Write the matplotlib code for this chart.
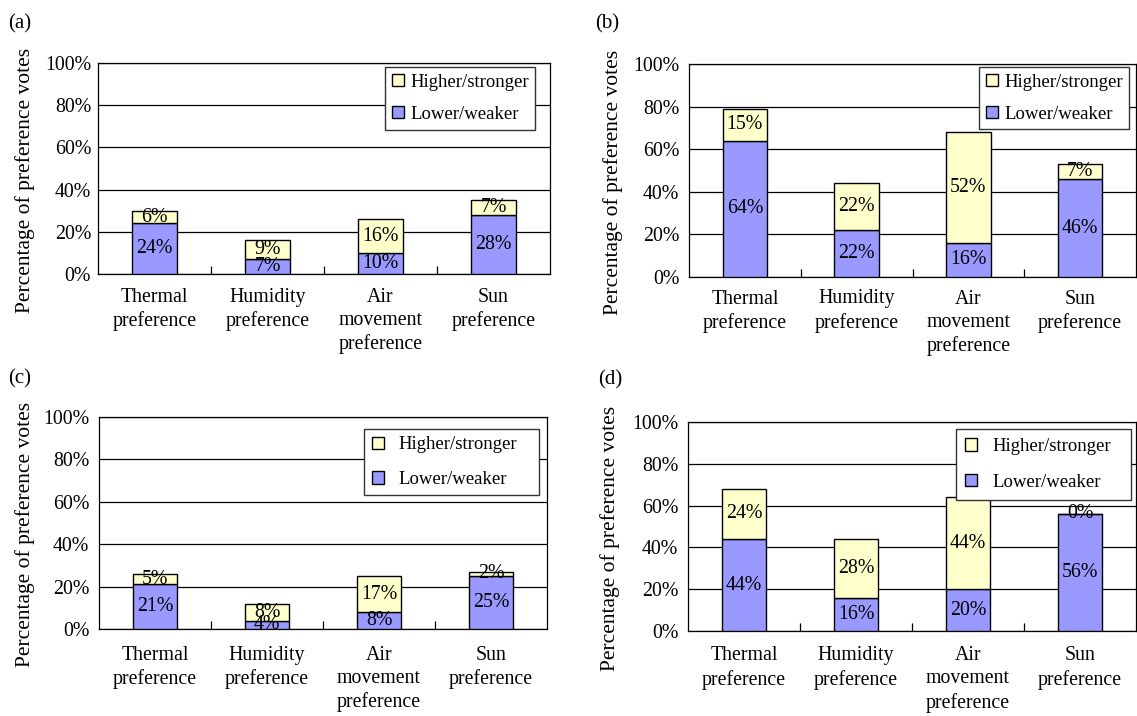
import matplotlib
matplotlib.use('Agg')
import matplotlib.pyplot as plt
from matplotlib.patches import Patch
from matplotlib.ticker import FuncFormatter

plt.rcParams['font.family'] = ['Liberation Serif', 'DejaVu Serif']

categories = ['Thermal\npreference', 'Humidity\npreference',
              'Air\nmovement\npreference', 'Sun\npreference']
series_names = ['Higher/stronger', 'Lower/weaker']
panel_names = ['(a)', '(b)', '(c)', '(d)']

lower_a = [24, 7, 10, 28]
higher_a = [6, 9, 16, 7]
lower_b = [64, 22, 16, 46]
higher_b = [15, 22, 52, 7]
lower_c = [21, 4, 8, 25]
higher_c = [5, 8, 17, 2]
lower_d = [44, 16, 20, 56]
higher_d = [24, 28, 44, 0]

LOW_COLOR = '#9999ff'
HIGH_COLOR = '#ffffcc'
FS = 14.3

W, H = 1137, 716


def px_rect(left, top, right, bottom):
    """Axes rectangle in figure fractions from pixel edges."""
    return [left / W, (H - bottom) / H, (right - left) / W, (bottom - top) / H]


# per panel: axes edges (px), panel-label spot, legend box, label pads
layouts = [
    dict(rect=(98, 63, 550, 274), tag=(8, 24), leg=(0.635, 0.981, 0.332),
         lspace=0.8, bpad=0.36, tpad=0.35, xpad=10, ypad=5, ylx=-0.139),
    dict(rect=(689, 64, 1136, 277), tag=(595, 24), leg=(0.649, 0.986, 0.336),
         lspace=0.8, bpad=0.36, tpad=0.35, xpad=9, ypad=7, ylx=-0.148),
    dict(rect=(99, 417, 547, 629), tag=(8, 379), leg=(0.592, 0.943, 0.39),
         lspace=0.93, bpad=0.39, tpad=0.8, xpad=12, ypad=7, ylx=-0.143),
    dict(rect=(688, 422, 1136, 631), tag=(598, 380), leg=(0.598, 0.967, 0.39),
         lspace=0.99, bpad=0.49, tpad=0.8, xpad=11, ypad=7, ylx=-0.152),
]

data = [(lower_a, higher_a), (lower_b, higher_b),
        (lower_c, higher_c), (lower_d, higher_d)]

fig = plt.figure(figsize=(W / 100, H / 100), dpi=100)

for name, (lower, higher), lay in zip(panel_names, data, layouts):
    ax = fig.add_axes(px_rect(*lay['rect']))
    x = range(len(categories))

    low_bars = ax.bar(x, lower, width=0.4, color=LOW_COLOR,
                      edgecolor='black', linewidth=1.0, zorder=3)
    high_bars = ax.bar(x, higher, width=0.4, bottom=lower, color=HIGH_COLOR,
                       edgecolor='black', linewidth=1.0, zorder=3)
    ax.bar_label(low_bars, labels=[f'{v}%' for v in lower],
                 label_type='center', fontsize=FS, zorder=4)
    ax.bar_label(high_bars, labels=[f'{v}%' for v in higher],
                 label_type='center', fontsize=FS, zorder=4)

    ax.set_xlim(-0.5, 3.5)
    ax.set_ylim(0, 100)
    ax.set_yticks(range(0, 101, 20))
    ax.yaxis.set_major_formatter(FuncFormatter(lambda v, _: f'{v:.0f}%'))
    ax.yaxis.grid(True, color='black', linewidth=0.9)
    ax.set_axisbelow(True)

    ax.set_xticks(list(x))
    ax.set_xticklabels(categories)
    ax.set_xticks([0.5, 1.5, 2.5], minor=True)
    ax.tick_params(axis='x', which='major', length=0, pad=lay['xpad'],
                   labelsize=FS)
    ax.tick_params(axis='x', which='minor', direction='in', length=6,
                   width=0.9)
    ax.tick_params(axis='y', length=0, pad=lay['ypad'], labelsize=FS)
    for lbl in ax.get_xticklabels():
        lbl.set_linespacing(1.3)
    for sp in ax.spines.values():
        sp.set_linewidth(0.9)
        sp.set_color('black')

    ax.set_ylabel('Percentage of preference votes', fontsize=15.5)
    ax.yaxis.set_label_coords(lay['ylx'], 0.445)

    handles = [Patch(facecolor=HIGH_COLOR, edgecolor='black', linewidth=1.0),
               Patch(facecolor=LOW_COLOR, edgecolor='black', linewidth=1.0)]
    lx, ltop, lw = lay['leg']
    leg = ax.legend(handles, series_names, loc='upper left',
                    bbox_to_anchor=(lx, ltop - 0.4, lw, 0.4), mode='expand',
                    borderaxespad=0, fontsize=13.5, fancybox=False,
                    framealpha=1, edgecolor='#333333',
                    handlelength=0.65, handleheight=0.65,
                    handletextpad=lay['tpad'], labelspacing=lay['lspace'],
                    borderpad=lay['bpad'])
    leg.get_frame().set_linewidth(1.0)
    leg.set_zorder(5)

    tx, ty = lay['tag']
    fig.text(tx / W, 1 - ty / H, name, fontsize=15, va='center', ha='left')

fig.savefig('out.png', dpi=100, facecolor='white')
